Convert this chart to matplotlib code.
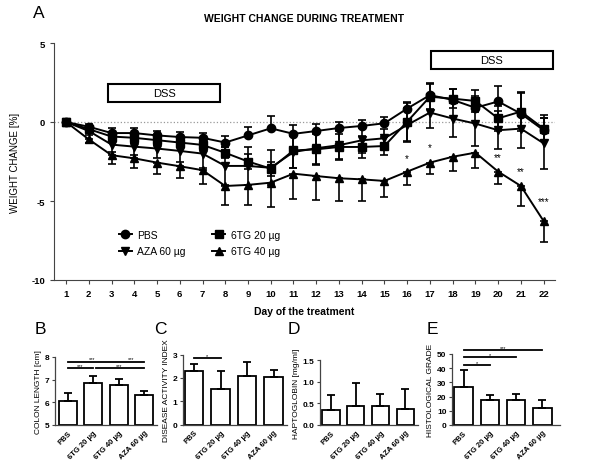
import numpy as np
import matplotlib
matplotlib.use("Agg")
import matplotlib.pyplot as plt
from matplotlib.patches import Rectangle

plt.rcParams['font.family'] = ['Liberation Sans', 'DejaVu Sans']
plt.rcParams['axes.unicode_minus'] = False

# --- panel A data (weight change in %) ---
days = list(range(1, 23))
pbs = [0, -0.3, -0.7, -0.7, -0.85, -0.95, -1.0, -1.3, -0.85, -0.4, -0.75, -0.57,
       -0.38, -0.25, -0.08, 0.85, 1.7, 1.4, 0.9, 1.3, 0.53, -0.52]
pbs_err = [0, 0.15, 0.3, 0.3, 0.3, 0.3, 0.33, 0.42, 0.56, 0.78, 0.55, 0.47,
           0.4, 0.35, 0.4, 0.4, 0.75, 0.7, 0.75, 1.0, 1.35, 0.95]
tg20 = [0, -0.45, -0.92, -1.0, -1.15, -1.3, -1.45, -1.95, -2.5, -2.95, -1.8, -1.73,
        -1.58, -1.58, -1.52, 0.02, 1.6, 1.48, 1.33, 0.23, 0.66, -0.42]
tg20_err = [0, 0.2, 0.3, 0.3, 0.3, 0.3, 0.3, 0.35, 0.5, 0.45, 1.1, 1.0,
            0.8, 0.7, 0.6, 1.2, 0.8, 0.6, 0.7, 0.8, 1.2, 0.7]
aza = [0, -0.57, -1.43, -1.56, -1.68, -1.83, -2.0, -2.78, -2.78, -2.9, -1.9, -1.66,
       -1.47, -1.16, -1.03, -0.19, 0.6, 0.22, -0.1, -0.52, -0.42, -1.35]
aza_err = [0, 0.25, 0.45, 0.5, 0.6, 0.7, 0.9, 1.2, 1.2, 1.1, 1.0, 1.0,
           0.9, 0.8, 0.6, 1.1, 1.0, 1.15, 1.45, 1.2, 1.25, 1.6]
tg40 = [0, -1.1, -2.1, -2.3, -2.57, -2.8, -3.05, -4.05, -3.98, -3.84, -3.27, -3.42,
        -3.56, -3.63, -3.73, -3.14, -2.57, -2.2, -1.94, -3.14, -4.05, -6.27]
tg40_err = [0, 0.25, 0.55, 0.6, 0.75, 0.75, 0.85, 1.2, 1.25, 1.55, 1.6, 1.5,
            1.45, 1.4, 1.0, 0.85, 0.75, 0.9, 1.0, 0.8, 1.25, 1.3]
stars = {16: ("*", -2.3), 17: ("*", -1.6), 20: ("**", -2.25), 21: ("**", -3.1), 22: ("***", -5.0)}

# --- bar panels ---
groups = ["PBS", "6TG 20 µg", "6TG 40 µg", "AZA 60 µg"]
colon = [6.04, 6.85, 6.78, 6.32]
colon_err = [0.37, 0.32, 0.25, 0.19]
dai = [2.28, 1.52, 2.09, 2.05]
dai_err = [0.32, 0.76, 0.58, 0.3]
hapto = [0.35, 0.45, 0.43, 0.37]
hapto_err = [0.35, 0.52, 0.29, 0.46]
histo = [27.0, 17.6, 17.6, 12.2]
histo_err = [12.0, 3.5, 4.0, 5.6]

W, H = 600, 477
fig = plt.figure(figsize=(6, 4.77), dpi=100)


def box(l, t, r, b):
    return [l / W, 1 - b / H, (r - l) / W, (b - t) / H]


axcol = '#444444'

ax = fig.add_axes(box(54, 44, 555, 281))
ax.axhline(0, color='#999999', ls=':', lw=0.9, zorder=0)

series = [("PBS", pbs, pbs_err, 'o', 'up'),
          ("6TG 20 µg", tg20, tg20_err, 's', 'both'),
          ("AZA 60 µg", aza, aza_err, 'v', 'both'),
          ("6TG 40 µg", tg40, tg40_err, '^', 'down')]
handles = {}
for name, y, e, m, side in series:
    e = np.array(e)
    z = np.zeros_like(e)
    if side == 'up':
        yerr = [z, e]
    elif side == 'down':
        yerr = [e, z]
    else:
        yerr = [e, e]
    ax.errorbar(days, y, yerr=yerr, fmt='none', ecolor='black', elinewidth=1.2,
                capsize=3, capthick=1.2)
    h, = ax.plot(days, y, color='black', lw=1.4, marker=m, ms=6, label=name)
    handles[name] = h

for d, (s, yv) in stars.items():
    ax.text(d, yv, s, ha='center', va='center', fontsize=7)

# DSS boxes
for x0, x1, y0, y1 in [(2.85, 7.77, 1.25, 2.4), (17.04, 22.4, 3.33, 4.47)]:
    ax.add_patch(Rectangle((x0, y0), x1 - x0, y1 - y0, fill=False, ec='black', lw=1.5))
    ax.text((x0 + x1) / 2, (y0 + y1) / 2, "DSS", ha='center', va='center', fontsize=8)

ax.set_xlim(0.47, 22.5)
ax.set_ylim(-10, 5)
ax.set_xticks(days)
ax.set_yticks([-10, -5, 0, 5])
ax.tick_params(labelsize=6.8, length=3, color=axcol, width=0.8)
for lab in ax.get_xticklabels() + ax.get_yticklabels():
    lab.set_fontweight('bold')
for s in ['top', 'right']:
    ax.spines[s].set_visible(False)
for s in ['left', 'bottom']:
    ax.spines[s].set_color(axcol)
    ax.spines[s].set_linewidth(0.8)
ax.set_ylabel("WEIGHT CHANGE [%]", fontsize=7, labelpad=8)
ax.set_xlabel("Day of the treatment", fontsize=7.5, fontweight='bold', labelpad=6)
ax.set_title("WEIGHT CHANGE DURING TREATMENT", fontsize=7.5, fontweight='bold', pad=16)
names = ["PBS", "AZA 60 µg", "6TG 20 µg", "6TG 40 µg"]
ax.legend([handles[n] for n in names], names,
          ncol=2, frameon=False, fontsize=7.5, handlelength=1.3,
          columnspacing=2.5, handletextpad=0.5, loc='center',
          bbox_to_anchor=(0.29, 0.156), labelspacing=0.6)

fig.text(33 / W, 1 - 14 / H, "A", fontsize=12.5, ha='left', va='center')


def bar_panel(rect, vals, errs, ylim, yticks, ylabel, xlim, letter, lpos, fmt=None):
    bx = fig.add_axes(box(*rect))
    x = np.arange(len(vals))
    base = ylim[0]
    bx.bar(x, np.array(vals) - base, bottom=base, width=0.7, color='white',
           edgecolor='black', lw=1.3)
    bx.errorbar(x, vals, yerr=[np.zeros(len(errs)), errs], fmt='none', ecolor='black',
                elinewidth=1.3, capsize=3, capthick=1.3)
    bx.set_xlim(*xlim)
    bx.set_ylim(*ylim)
    bx.set_yticks(yticks)
    if fmt:
        bx.set_yticklabels([fmt.format(t) for t in yticks])
    bx.set_xticks(x)
    bx.set_xticklabels(groups, rotation=45, ha='right', rotation_mode='anchor',
                       fontsize=5.5, fontweight='bold')
    bx.tick_params(axis='y', labelsize=6, length=2.5, color=axcol, pad=1.5)
    for lab in bx.get_yticklabels():
        lab.set_fontweight('bold')
    bx.tick_params(axis='x', length=0, pad=3)
    for s in ['top', 'right']:
        bx.spines[s].set_visible(False)
    for s in ['left', 'bottom']:
        bx.spines[s].set_color(axcol)
        bx.spines[s].set_linewidth(0.9)
    bx.set_ylabel(ylabel, fontsize=6, labelpad=2)
    fig.text(lpos[0] / W, 1 - lpos[1] / H, letter, fontsize=12.5, ha='center', va='center')
    return bx


def sig(bx, x0, x1, y, s, xs=None):
    bx.plot([x0, x1], [y, y], color='black', lw=1.3, clip_on=False)
    bx.text((x0 + x1) / 2 if xs is None else xs, y, s, ha='center', va='bottom',
            fontsize=4, clip_on=False)


bB = bar_panel((55, 358, 157, 426), colon, colon_err, (5, 8), [5, 6, 7, 8],
               "COLON LENGTH [cm]", (-0.5, 3.5), "B", (40, 329))
sig(bB, 0, 3, 7.8, "***", 0.95)
bB.text(2.5, 7.8, "***", ha='center', va='bottom', fontsize=4)
sig(bB, 0, 1, 7.5, "***")
sig(bB, 1.1, 3, 7.5, "***", 2.0)

bC = bar_panel((183, 355.7, 287, 425.5), dai, dai_err, (0, 3), [0, 1, 2, 3],
               "DISEASE ACTIVITY INDEX", (-0.42, 3.5), "C", (160, 329))
sig(bC, 0, 1, 2.85, "*")

bD = bar_panel((320, 361, 418, 426), hapto, hapto_err, (0, 1.5), [0, 0.5, 1.0, 1.5],
               "HAPTOGLOBIN [mg/ml]", (-0.45, 3.52), "D", (294, 329), fmt="{:.1f}")

bE = bar_panel((452, 355, 560, 426), histo, histo_err, (0, 50), [0, 10, 20, 30, 40, 50],
               "HISTOLOGICAL GRADE", (-0.44, 3.67), "E", (432, 330))
sig(bE, 0, 1, 42.3, "*")
sig(bE, 0, 2, 47.7, "*")
sig(bE, 0, 3, 52.8, "***")

fig.savefig("out.png", dpi=100)
